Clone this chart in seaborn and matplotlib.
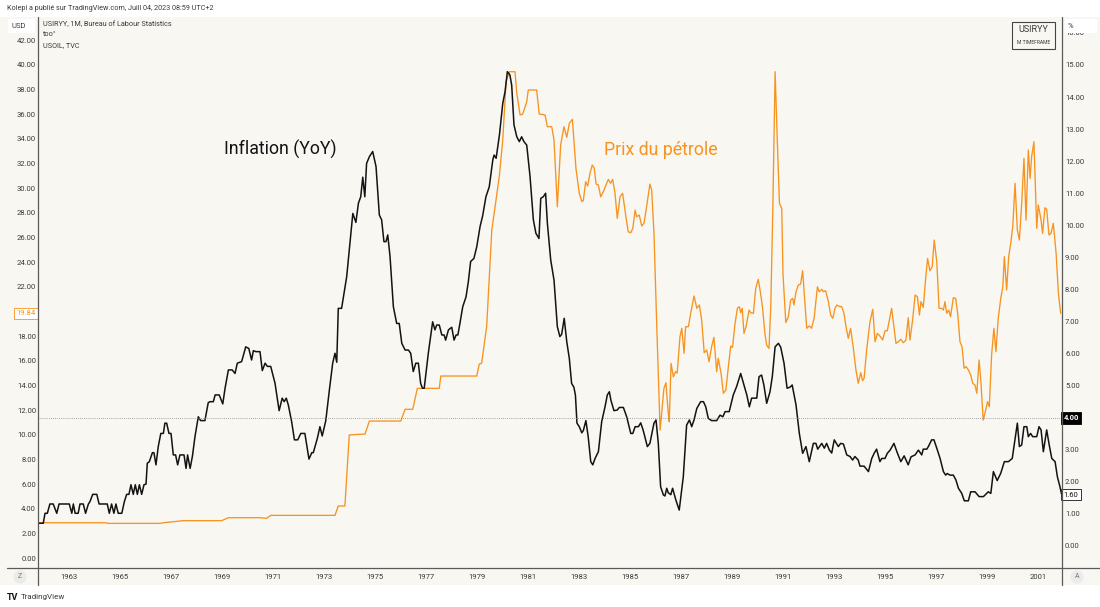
import numpy as np
import pandas as pd
import matplotlib.pyplot as plt
import seaborn as sns
from matplotlib.patches import Rectangle
from matplotlib.lines import Line2D
from matplotlib.ticker import FormatStrFormatter

# US CPI inflation, YoY % (right axis), decimal years
INFL_T = [1961.80, 1961.99, 1962.06, 1962.15, 1962.25, 1962.38, 1962.52, 1962.61, 1963.01, 1963.11,
          1963.17, 1963.24, 1963.36, 1963.43, 1963.56, 1963.65, 1963.76, 1963.82, 1963.93, 1964.09,
          1964.18, 1964.50, 1964.58, 1964.67, 1964.76, 1964.84, 1964.93, 1965.07, 1965.17, 1965.26,
          1965.35, 1965.43, 1965.52, 1965.60, 1965.68, 1965.76, 1965.85, 1965.94, 1966.02, 1966.07,
          1966.15, 1966.27, 1966.33, 1966.41, 1966.50, 1966.60, 1966.70, 1966.76, 1966.83, 1966.92,
          1967.00, 1967.09, 1967.18, 1967.26, 1967.35, 1967.51, 1967.59, 1967.65, 1967.75, 1967.84,
          1967.94, 1968.07, 1968.16, 1968.33, 1968.46, 1968.53, 1968.66, 1968.73, 1968.89, 1969.03,
          1969.12, 1969.25, 1969.40, 1969.51, 1969.60, 1969.77, 1969.93, 1970.05, 1970.16, 1970.23,
          1970.33, 1970.49, 1970.58, 1970.69, 1970.78, 1970.91, 1971.08, 1971.24, 1971.36, 1971.44,
          1971.52, 1971.60, 1971.73, 1971.84, 1971.97, 1972.09, 1972.25, 1972.41, 1972.52, 1972.58,
          1972.74, 1972.84, 1972.93, 1973.07, 1973.21, 1973.34, 1973.43, 1973.50, 1973.56, 1973.69,
          1973.89, 1974.13, 1974.25, 1974.35, 1974.44, 1974.52, 1974.60, 1974.67, 1974.78, 1974.91,
          1975.04, 1975.17, 1975.26, 1975.35, 1975.43, 1975.50, 1975.59, 1975.72, 1975.85, 1975.95,
          1976.05, 1976.18, 1976.31, 1976.40, 1976.50, 1976.60, 1976.70, 1976.79, 1976.86, 1976.93,
          1977.09, 1977.26, 1977.35, 1977.42, 1977.52, 1977.62, 1977.71, 1977.77, 1977.88, 1978.01,
          1978.10, 1978.18, 1978.25, 1978.33, 1978.44, 1978.57, 1978.66, 1978.75, 1978.88, 1978.99,
          1979.12, 1979.22, 1979.35, 1979.48, 1979.62, 1979.67, 1979.75, 1979.88, 1980.01, 1980.10,
          1980.19, 1980.29, 1980.36, 1980.45, 1980.56, 1980.66, 1980.75, 1980.84, 1980.95, 1981.08,
          1981.21, 1981.31, 1981.43, 1981.50, 1981.60, 1981.69, 1981.76, 1981.89, 1982.02, 1982.15,
          1982.25, 1982.32, 1982.42, 1982.52, 1982.62, 1982.71, 1982.80, 1982.86, 1982.92, 1983.01,
          1983.11, 1983.17, 1983.27, 1983.36, 1983.46, 1983.54, 1983.63, 1983.76, 1983.89, 1984.02,
          1984.11, 1984.19, 1984.25, 1984.37, 1984.50, 1984.58, 1984.74, 1984.87, 1985.03, 1985.11,
          1985.20, 1985.33, 1985.42, 1985.52, 1985.68, 1985.78, 1985.94, 1986.02, 1986.11, 1986.20,
          1986.31, 1986.37, 1986.44, 1986.50, 1986.60, 1986.67, 1986.80, 1986.93, 1987.09, 1987.22,
          1987.33, 1987.42, 1987.51, 1987.62, 1987.77, 1987.88, 1987.97, 1988.07, 1988.20, 1988.40,
          1988.53, 1988.64, 1988.73, 1988.89, 1989.05, 1989.18, 1989.34, 1989.44, 1989.58, 1989.68,
          1989.77, 1989.97, 1990.06, 1990.16, 1990.25, 1990.36, 1990.49, 1990.58, 1990.69, 1990.82,
          1990.91, 1991.04, 1991.16, 1991.27, 1991.36, 1991.51, 1991.64, 1991.77, 1991.90, 1992.03,
          1992.19, 1992.29, 1992.36, 1992.52, 1992.62, 1992.71, 1992.82, 1992.91, 1993.01, 1993.17,
          1993.26, 1993.37, 1993.50, 1993.63, 1993.73, 1993.82, 1993.95, 1994.02, 1994.18, 1994.35,
          1994.48, 1994.58, 1994.67, 1994.80, 1994.87, 1995.00, 1995.09, 1995.20, 1995.35, 1995.48,
          1995.62, 1995.75, 1995.91, 1996.02, 1996.18, 1996.31, 1996.44, 1996.50, 1996.64, 1996.70,
          1996.83, 1996.92, 1997.03, 1997.16, 1997.29, 1997.38, 1997.44, 1997.55, 1997.68, 1997.78,
          1997.88, 1998.01, 1998.11, 1998.27, 1998.36, 1998.53, 1998.69, 1998.86, 1998.99, 1999.05,
          1999.15, 1999.25, 1999.40, 1999.54, 1999.68, 1999.84, 1999.99, 2000.19, 2000.27, 2000.36,
          2000.45, 2000.56, 2000.62, 2000.71, 2000.79, 2000.95, 2001.04, 2001.12, 2001.21, 2001.34,
          2001.44, 2001.54, 2001.67, 2001.76, 2001.86, 2001.93]
INFL_V = [0.71, 0.71, 1.02, 1.02, 1.31, 1.31, 1.02, 1.31, 1.31, 1.02,
          1.31, 1.02, 1.02, 1.31, 1.31, 1.02, 1.31, 1.38, 1.61, 1.61,
          1.31, 1.31, 1.02, 1.31, 1.02, 1.31, 1.02, 1.02, 1.38, 1.61,
          1.61, 1.91, 1.61, 1.91, 1.61, 1.91, 1.61, 1.91, 1.93, 2.58,
          2.63, 2.91, 2.91, 2.53, 3.10, 3.51, 3.51, 3.83, 3.83, 3.51,
          3.51, 2.84, 2.84, 2.53, 2.84, 2.84, 2.42, 2.84, 2.42, 2.80,
          3.41, 4.03, 3.91, 3.91, 4.47, 4.50, 4.50, 4.71, 4.71, 4.43,
          4.92, 5.49, 5.49, 5.38, 5.70, 5.75, 6.21, 6.16, 5.80, 6.09,
          6.06, 6.06, 5.47, 5.70, 5.60, 5.60, 5.07, 4.22, 4.61, 4.50,
          4.61, 4.40, 3.88, 3.31, 3.31, 3.51, 3.51, 2.71, 2.91, 2.91,
          3.36, 3.72, 3.43, 3.91, 4.86, 5.70, 6.01, 5.73, 7.41, 7.41,
          8.40, 10.37, 10.09, 10.69, 10.89, 11.50, 10.89, 11.93, 12.14, 12.30,
          11.83, 10.32, 10.17, 9.49, 9.49, 9.70, 9.02, 7.46, 6.94, 6.94,
          6.32, 6.11, 6.11, 6.01, 5.44, 5.70, 5.70, 5.07, 4.92, 4.92,
          6.01, 6.99, 6.74, 6.89, 6.89, 6.58, 6.58, 6.42, 6.74, 6.82,
          6.42, 6.58, 6.58, 6.94, 7.46, 7.77, 8.24, 8.87, 8.97, 9.33,
          9.96, 10.29, 10.89, 11.20, 12.04, 12.19, 12.09, 12.82, 13.80, 14.17,
          14.79, 14.69, 14.37, 13.13, 12.76, 12.61, 12.76, 12.61, 12.50, 11.52,
          10.17, 9.75, 9.59, 10.84, 10.89, 11.00, 10.06, 8.92, 8.29, 6.84,
          6.53, 6.60, 7.10, 6.37, 5.85, 5.07, 4.95, 4.70, 3.83, 3.72,
          3.53, 3.60, 3.91, 3.41, 2.63, 2.53, 2.73, 2.94, 3.88, 4.34,
          4.71, 4.81, 4.55, 4.22, 4.24, 4.32, 4.32, 4.03, 3.51, 3.51,
          3.72, 3.72, 3.84, 3.60, 3.10, 3.20, 3.83, 3.93, 3.20, 1.85,
          1.59, 1.56, 1.80, 1.66, 1.60, 1.80, 1.43, 1.12, 2.16, 3.77,
          3.93, 3.72, 3.93, 4.29, 4.50, 4.50, 4.34, 3.98, 3.91, 3.91,
          4.08, 4.03, 4.19, 4.19, 4.71, 4.97, 5.38, 5.10, 4.71, 4.34,
          4.61, 4.61, 5.28, 5.33, 5.02, 4.45, 4.81, 5.28, 6.21, 6.32,
          6.20, 5.70, 4.92, 4.95, 5.02, 4.40, 3.51, 2.89, 3.10, 2.63,
          3.20, 3.20, 3.02, 3.20, 3.05, 3.20, 2.99, 2.90, 3.31, 3.10,
          3.20, 3.18, 2.84, 2.79, 2.68, 2.79, 2.68, 2.49, 2.49, 2.32,
          2.73, 2.90, 3.02, 2.63, 2.73, 2.73, 2.89, 2.99, 3.20, 2.91,
          2.63, 2.81, 2.53, 2.78, 2.84, 2.99, 2.84, 3.02, 3.02, 3.10,
          3.31, 3.31, 3.05, 2.73, 2.32, 2.21, 2.26, 2.21, 2.21, 2.06,
          1.80, 1.64, 1.41, 1.41, 1.69, 1.69, 1.54, 1.54, 1.64, 1.69,
          1.64, 2.32, 2.04, 2.27, 2.63, 2.63, 2.73, 3.83, 3.10, 3.15,
          3.72, 3.72, 3.41, 3.51, 3.41, 3.41, 3.72, 3.62, 2.94, 3.62,
          3.15, 2.73, 2.63, 2.16, 1.85, 1.60]

# Oil price, USD (left axis), decimal years
OIL_T = [1961.80, 1964.48, 1964.50, 1966.57, 1966.70, 1967.48, 1968.99, 1969.25, 1970.49, 1970.75,
         1970.91, 1973.43, 1973.56, 1973.82, 1973.99, 1974.61, 1974.78, 1976.01, 1976.18, 1976.48,
         1976.66, 1977.52, 1977.58, 1978.99, 1979.09, 1979.18, 1979.38, 1979.58, 1979.71, 1979.88,
         1980.01, 1980.14, 1980.27, 1980.49, 1980.56, 1980.69, 1980.79, 1980.95, 1981.01, 1981.34,
         1981.44, 1981.67, 1981.76, 1981.93, 1982.02, 1982.15, 1982.28, 1982.41, 1982.52, 1982.62,
         1982.74, 1982.88, 1983.01, 1983.11, 1983.17, 1983.26, 1983.34, 1983.43, 1983.52, 1983.60,
         1983.67, 1983.76, 1983.85, 1983.95, 1984.06, 1984.15, 1984.24, 1984.32, 1984.41, 1984.50,
         1984.61, 1984.71, 1984.84, 1984.93, 1985.03, 1985.11, 1985.20, 1985.26, 1985.36, 1985.46,
         1985.55, 1985.65, 1985.78, 1985.85, 1985.94, 1986.05, 1986.18, 1986.33, 1986.41, 1986.50,
         1986.54, 1986.61, 1986.70, 1986.79, 1986.85, 1986.96, 1987.03, 1987.12, 1987.18, 1987.29,
         1987.38, 1987.51, 1987.62, 1987.72, 1987.81, 1987.91, 1988.01, 1988.10, 1988.20, 1988.29,
         1988.40, 1988.46, 1988.57, 1988.66, 1988.76, 1988.85, 1988.95, 1989.02, 1989.12, 1989.21,
         1989.29, 1989.34, 1989.40, 1989.47, 1989.55, 1989.67, 1989.73, 1989.84, 1989.93, 1990.03,
         1990.12, 1990.20, 1990.29, 1990.36, 1990.45, 1990.52, 1990.60, 1990.69, 1990.78, 1990.86,
         1990.95, 1991.00, 1991.11, 1991.21, 1991.30, 1991.38, 1991.43, 1991.51, 1991.60, 1991.69,
         1991.77, 1991.93, 1992.03, 1992.12, 1992.22, 1992.35, 1992.42, 1992.52, 1992.58, 1992.67,
         1992.78, 1992.87, 1992.95, 1993.04, 1993.11, 1993.24, 1993.30, 1993.39, 1993.47, 1993.56,
         1993.65, 1993.76, 1993.86, 1993.95, 1994.05, 1994.12, 1994.18, 1994.28, 1994.41, 1994.52,
         1994.61, 1994.70, 1994.80, 1994.91, 1995.00, 1995.09, 1995.17, 1995.26, 1995.35, 1995.43,
         1995.52, 1995.62, 1995.72, 1995.82, 1995.91, 1995.98, 1996.09, 1996.18, 1996.27, 1996.35,
         1996.41, 1996.50, 1996.60, 1996.67, 1996.76, 1996.85, 1996.93, 1997.03, 1997.12, 1997.22,
         1997.29, 1997.35, 1997.42, 1997.50, 1997.57, 1997.68, 1997.77, 1997.85, 1997.94, 1998.02,
         1998.10, 1998.18, 1998.27, 1998.36, 1998.44, 1998.53, 1998.60, 1998.69, 1998.76, 1998.85,
         1998.95, 1999.02, 1999.09, 1999.18, 1999.27, 1999.35, 1999.44, 1999.54, 1999.62, 1999.68,
         1999.77, 1999.85, 1999.93, 2000.01, 2000.10, 2000.19, 2000.27, 2000.36, 2000.45, 2000.53,
         2000.62, 2000.69, 2000.75, 2000.84, 2000.95, 2001.01, 2001.11, 2001.18, 2001.27, 2001.34,
         2001.43, 2001.51, 2001.60, 2001.71, 2001.80, 2001.89]
OIL_V = [2.86, 2.86, 2.81, 2.81, 2.86, 3.03, 3.03, 3.27, 3.27, 3.22,
         3.46, 3.46, 4.22, 4.22, 9.98, 10.06, 11.11, 11.11, 12.06, 12.06,
         13.76, 13.76, 14.76, 14.76, 15.73, 15.79, 18.80, 26.60, 28.50, 31.06,
         33.90, 38.63, 39.44, 39.44, 37.69, 35.93, 36.00, 37.00, 37.96, 37.96,
         36.01, 35.93, 34.98, 34.98, 33.90, 28.49, 33.50, 34.98, 34.12, 35.25,
         35.58, 31.60, 29.58, 28.90, 29.00, 30.52, 30.17, 31.20, 31.87, 31.60,
         30.33, 30.25, 29.30, 29.70, 30.25, 30.71, 30.39, 30.71, 29.63, 27.55,
         29.30, 29.58, 27.68, 26.46, 26.38, 26.74, 28.22, 27.68, 27.82, 26.93,
         27.15, 28.49, 30.33, 29.85, 26.33, 18.76, 10.38, 13.76, 14.22, 11.74,
         11.05, 15.79, 14.70, 15.11, 15.00, 17.95, 18.63, 16.60, 18.76, 18.76,
         19.85, 21.25, 20.25, 20.52, 19.30, 16.65, 16.87, 15.92, 17.14, 17.90,
         15.11, 16.20, 14.98, 13.36, 13.63, 15.39, 17.19, 17.09, 19.03, 20.25,
         20.38, 19.90, 20.25, 18.22, 18.76, 20.11, 19.90, 19.85, 21.87, 22.60,
         21.47, 20.25, 18.22, 17.27, 17.00, 20.38, 28.22, 39.44, 33.63, 28.77,
         28.36, 23.00, 19.10, 19.57, 20.92, 21.06, 20.52, 21.60, 22.14, 22.22,
         23.30, 18.63, 18.82, 18.63, 19.44, 22.00, 21.60, 21.79, 21.60, 21.68,
         20.79, 19.71, 19.44, 20.25, 20.52, 20.38, 20.40, 19.85, 18.76, 17.82,
         18.63, 17.00, 15.25, 14.17, 15.03, 14.38, 14.57, 16.87, 19.16, 20.17,
         17.54, 18.22, 18.00, 17.68, 18.43, 18.43, 19.30, 20.25, 18.76, 17.41,
         17.54, 17.74, 17.46, 17.68, 19.49, 17.68, 19.44, 21.33, 21.19, 19.71,
         20.79, 20.33, 22.81, 24.30, 23.30, 23.63, 25.79, 24.03, 20.25, 20.25,
         20.11, 20.79, 19.85, 20.11, 19.57, 21.11, 21.06, 19.85, 17.54, 17.14,
         15.39, 15.52, 15.25, 14.84, 14.17, 14.03, 13.36, 16.06, 14.30, 11.19,
         12.00, 12.68, 12.27, 16.46, 18.63, 16.73, 19.44, 21.06, 22.00, 24.44,
         21.74, 24.44, 25.52, 26.87, 30.39, 26.60, 25.79, 28.77, 32.42, 27.41,
         33.09, 30.79, 32.55, 33.76, 26.74, 28.63, 27.55, 26.33, 28.41, 28.28,
         26.20, 26.33, 27.15, 24.71, 21.47, 19.84]

YEAR_TICKS = list(range(1963, 2002, 2))
USD_TICKS = list(range(0, 43, 2))
PCT_TICKS = list(range(0, 17))
MARK_LEVEL = 4.0

W, H = 1100, 607
BG = '#f8f7f2'
ORANGE = '#f7931e'
INK = '#131313'
AXIS_TXT = '#3a3a3a'
FRAME = '#5a5a5a'


def fx(px):
    return px / W


def fy(py):
    return 1 - py / H


sns.set_theme(style='white')
plt.rcParams['font.family'] = ['Roboto', 'DejaVu Sans']

fig = plt.figure(figsize=(W / 100, H / 100), dpi=100)
fig.patch.set_facecolor('white')

# cream panel behind everything
fig.add_artist(Rectangle((0, fy(585)), 1, fy(17) - fy(585), transform=fig.transFigure,
                         fc=BG, ec='none', zorder=-10))

ax = fig.add_axes([fx(38), fy(568), fx(1062) - fx(38), fy(17) - fy(568)])
ax.set_facecolor('none')
ax2 = ax.twinx()

oil = pd.DataFrame({'t': OIL_T, 'usd': OIL_V})
infl = pd.DataFrame({'t': INFL_T, 'pct': INFL_V})

sns.lineplot(data=oil, x='t', y='usd', ax=ax, color=ORANGE, lw=0.95,
             estimator=None, sort=False)
sns.lineplot(data=infl, x='t', y='pct', ax=ax2, color=INK, lw=1.1,
             estimator=None, sort=False)
ax2.axhline(MARK_LEVEL, color='#8a8a8a', lw=0.6, ls=(0, (1, 1.5)))

ax.set_xlim(1961.784, 2001.941)
ax.set_ylim(-0.81, 43.88)
ax2.set_ylim(-0.686, 16.495)

ax.set_xticks(YEAR_TICKS)
ax.set_xticklabels([str(y) for y in YEAR_TICKS])
ax.set_yticks(USD_TICKS)
ax2.set_yticks(PCT_TICKS)
ax.yaxis.set_major_formatter(FormatStrFormatter('%.2f'))
ax2.yaxis.set_major_formatter(FormatStrFormatter('%.2f'))
for a in (ax, ax2):
    a.set_xlabel('')
    a.set_ylabel('')
    a.grid(False)
    for s in a.spines.values():
        s.set_visible(False)
ax.tick_params(axis='y', length=0, pad=1.4, labelsize=5.5, labelcolor=AXIS_TXT)
ax.tick_params(axis='x', length=0, pad=4.6, labelsize=5.5, labelcolor=AXIS_TXT)
ax2.tick_params(axis='y', length=0, pad=2.2, labelsize=5.5, labelcolor=AXIS_TXT)

# frame lines
fig.add_artist(Line2D([fx(7), 1], [fy(568), fy(568)], color=FRAME, lw=0.9, zorder=3))
fig.add_artist(Line2D([fx(38), fx(38)], [fy(17), fy(585)], color=FRAME, lw=0.9, zorder=3))
fig.add_artist(Line2D([fx(1062), fx(1062)], [fy(17), fy(585)], color=FRAME, lw=0.9, zorder=3))

# last value tags
ax.text(-0.0025, OIL_V[-1], f'{OIL_V[-1]:.2f}', transform=ax.get_yaxis_transform(),
        ha='right', va='center', fontsize=5.5, color=ORANGE, clip_on=False, zorder=6,
        bbox=dict(boxstyle='square,pad=0.3', fc='white', ec=ORANGE, lw=0.6))
ax2.text(1.0015, MARK_LEVEL, f'{MARK_LEVEL:.2f}', transform=ax2.get_yaxis_transform(),
         ha='left', va='center', fontsize=5.5, color='white', fontweight='bold',
         clip_on=False, zorder=6,
         bbox=dict(boxstyle='square,pad=0.3', fc='black', ec='black', lw=0.6))
ax2.text(1.0015, INFL_V[-1], f'{INFL_V[-1]:.2f}', transform=ax2.get_yaxis_transform(),
         ha='left', va='center', fontsize=5.5, color=INK, clip_on=False, zorder=6,
         bbox=dict(boxstyle='square,pad=0.3', fc='white', ec=INK, lw=0.6))

# unit boxes
fig.add_artist(Rectangle((fx(8), fy(33)), fx(27), fy(19) - fy(33), transform=fig.transFigure,
                         fc='white', ec='none', zorder=5))
fig.text(fx(11), fy(26), 'USD', fontsize=5.5, color=AXIS_TXT, va='center', zorder=6)
fig.add_artist(Rectangle((fx(1065), fy(33)), fx(32), fy(19) - fy(33), transform=fig.transFigure,
                         fc='white', ec='none', zorder=5))
fig.text(fx(1068), fy(26), '%', fontsize=5.5, color=AXIS_TXT, va='center', zorder=6)

# timeframe badge
fig.add_artist(Rectangle((fx(1012), fy(49)), fx(43), fy(22) - fy(49), transform=fig.transFigure,
                         fc=BG, ec='#444444', lw=0.8, zorder=5))
fig.text(fx(1033.5), fy(30), 'USIRYY', fontsize=6.5, color=AXIS_TXT, ha='center', va='center', zorder=6)
fig.text(fx(1033.5), fy(43), 'M TIMEFRAME', fontsize=3.6, color=AXIS_TXT, ha='center', va='center', zorder=6)

# legend lines, top left
fig.text(fx(43), fy(25), 'USIRYY, 1M, Bureau of Labour Statistics', fontsize=5.2, color=AXIS_TXT, va='center')
fig.text(fx(43), fy(35), 'too°', fontsize=5.2, color=AXIS_TXT, va='center')
fig.text(fx(43), fy(46), 'USOIL, TVC', fontsize=5.2, color=AXIS_TXT, va='center')

# annotations
fig.text(fx(280), fy(155), 'Inflation (YoY)', fontsize=12.8, color=INK, ha='center', va='baseline')
fig.text(fx(661), fy(155), 'Prix du pétrole', fontsize=12.8, color=ORANGE, ha='center', va='baseline')

# header / footer
fig.text(fx(7), fy(8), 'Kolepi a publié sur TradingView.com, Juill 04, 2023 08:59 UTC+2',
         fontsize=5.2, color=AXIS_TXT, va='center')
fig.text(fx(7), fy(597), 'TV', fontsize=6.5, color=INK, fontweight='bold', va='center')
fig.text(fx(21), fy(597), 'TradingView', fontsize=5.8, color=AXIS_TXT, va='center')

# scale buttons
for px, lab in ((20, 'Z'), (1077, 'A')):
    fig.text(fx(px), fy(577), lab, fontsize=5, color='#777777', ha='center', va='center', zorder=6,
             bbox=dict(boxstyle='circle,pad=0.45', fc='#ebebea', ec='none'))

fig.savefig('out.png', dpi=100)
